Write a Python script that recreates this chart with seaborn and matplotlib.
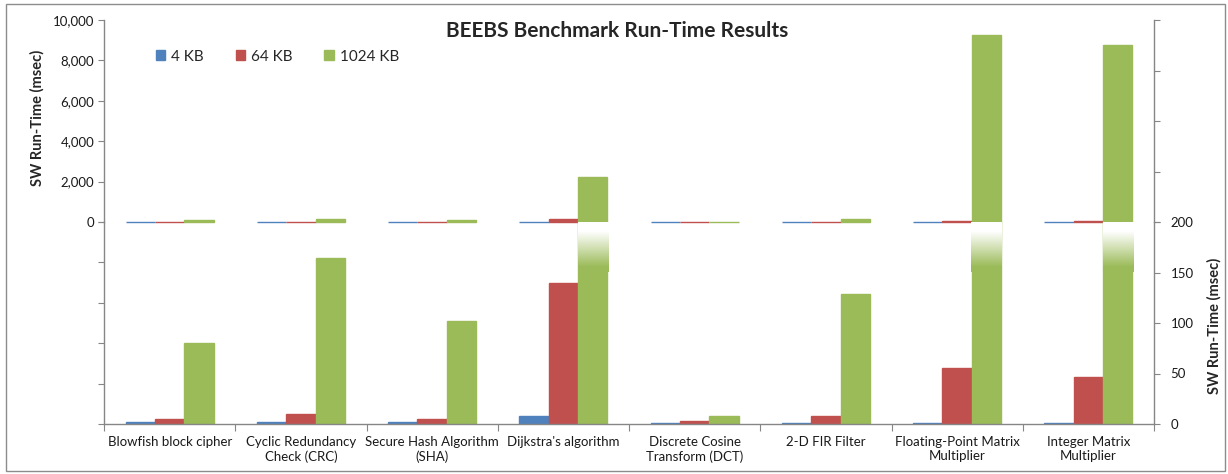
import numpy as np
import pandas as pd
import seaborn as sns
import matplotlib.pyplot as plt
from matplotlib.patches import Rectangle
from matplotlib.ticker import FuncFormatter

# Laufzeiten in msec
categories = ["Blowfish block cipher", "Cyclic Redundancy\nCheck (CRC)",
              "Secure Hash Algorithm\n(SHA)", "Dijkstra's algorithm",
              "Discrete Cosine\nTransform (DCT)", "2-D FIR Filter",
              "Floating-Point Matrix\nMultiplier", "Integer Matrix\nMultiplier"]
sizes = ["4 KB", "64 KB", "1024 KB"]
t_4kb = [1.5, 1.5, 1.5, 8, 1, 1, 1, 1]
t_64kb = [4.5, 9.5, 5, 140, 3, 7.5, 55, 47]
t_1024kb = [80, 164, 102, 2250, 7.5, 129, 9250, 8760]
colors = ["#4F81BD", "#C0504D", "#9BBB59"]

df = pd.DataFrame({
    "bench": categories * 3,
    "size": [s for s in sizes for _ in categories],
    "msec": t_4kb + t_64kb + t_1024kb,
})

sns.set_style("white")
plt.rcParams["font.family"] = ["Lato", "DejaVu Sans"]
axis_grey = "#868686"

W, H = 1228, 474
fig = plt.figure(figsize=(W / 100, H / 100), dpi=100)
left, right = 104 / W, 1154 / W
ax_top = fig.add_axes([left, 1 - 222 / H, right - left, 202 / H])
ax_bot = fig.add_axes([left, 1 - 424 / H, right - left, 202 / H])
ax_bot.patch.set_visible(False)

for ax, leg in [(ax_top, True), (ax_bot, False)]:
    sns.barplot(data=df, x="bench", y="msec", hue="size", hue_order=sizes,
                palette=colors, width=0.67, saturation=1, ax=ax, legend=leg)
    # Kantenfarbe = Fuellfarbe, damit auch winzige Balken als Linie sichtbar bleiben
    for p in ax.patches:
        p.set_edgecolor(p.get_facecolor())
        p.set_linewidth(1.0)
        if ax is ax_top:
            p.set_clip_on(False)
    ax.set_xlim(-0.5, len(categories) - 0.5)
    ax.set_xlabel("")
    ax.set_ylabel("")
    ax.spines["top"].set_visible(False)
    for s in ["left", "right", "bottom"]:
        ax.spines[s].set_color(axis_grey)
        ax.spines[s].set_linewidth(1)

# oberer Teil: 0 - 10.000 msec
ax_top.set_ylim(0, 10000)
ax_top.spines["bottom"].set_visible(False)
ax_top.set_xticks([])
ax_top.set_yticks(np.arange(0, 10001, 2000))
ax_top.yaxis.set_major_formatter(FuncFormatter(lambda v, p: f"{int(v):,}"))
ax_top.tick_params(axis="y", left=True, length=4, color=axis_grey, labelsize=9.5,
                   labelcolor="#1a1a1a", pad=3)
rt = ax_top.twinx()
rt.set_ylim(0, 10000)
rt.set_yticks(np.arange(0, 10001, 2500))
rt.set_yticklabels([])
rt.tick_params(axis="y", right=True, length=4, color=axis_grey)
for s in rt.spines.values():
    s.set_visible(False)

# unterer Teil: 0 - 200 msec (rechte Achse)
ax_bot.set_ylim(0, 200)
ax_bot.set_yticks(np.arange(0, 201, 40))
ax_bot.set_yticklabels([])
ax_bot.tick_params(axis="y", left=True, length=4, color=axis_grey)
ax_bot.set_xticks(np.arange(-0.5, len(categories), 1))
ax_bot.set_xticklabels([])
ax_bot.set_xticks(np.arange(len(categories)), minor=True)
ax_bot.set_xticklabels(categories, minor=True, fontsize=9.5, color="#1a1a1a")
ax_bot.tick_params(axis="x", which="major", bottom=True, length=5, color=axis_grey)
ax_bot.tick_params(axis="x", which="minor", bottom=True, length=0, pad=9)
rb = ax_bot.twinx()
rb.set_ylim(0, 200)
rb.set_yticks(np.arange(0, 201, 50))
rb.tick_params(axis="y", right=True, length=4, color=axis_grey, labelsize=9.5,
               labelcolor="#1a1a1a", pad=8)
for s in rb.spines.values():
    s.set_visible(False)

# abgeschnittene Balken unten ausblenden (Verlauf nach weiss)
green = np.array([0x9B, 0xBB, 0x59]) / 255
vals = np.linspace(150, 201, 120)
t = np.clip((vals - 155) / (190 - 155), 0, 1)[:, None]
grad = green * (1 - t) + np.ones(3) * t
for bar in list(ax_bot.patches):
    if bar.get_height() > 200:
        x0 = bar.get_x()
        ax_bot.imshow(grad[:, None, :], extent=(x0 - 0.004, x0 + bar.get_width() + 0.004, 150, 201),
                      origin="lower", aspect="auto", zorder=5)
ax_bot.set_xlim(-0.5, len(categories) - 0.5)
ax_bot.set_ylim(0, 200)

# Legende
handles, labels = ax_top.get_legend_handles_labels()
ax_top.legend(handles, labels, ncol=3, frameon=False, fontsize=11,
              loc="upper left", bbox_to_anchor=(148 / W, 1 - 42 / H),
              bbox_transform=fig.transFigure, borderpad=0, handlelength=0.6,
              handleheight=0.6, handletextpad=0.4, columnspacing=2.1)

fig.text(617 / W, 1 - 31 / H, "BEEBS Benchmark Run-Time Results", ha="center",
         va="center", fontsize=15, fontweight="bold")
fig.text(37 / W, 1 - 118 / H, "SW Run-Time (msec)", rotation=90, ha="center",
         va="center", fontsize=10.5, fontweight="bold")
fig.text(1214 / W, 1 - 326 / H, "SW Run-Time (msec)", rotation=90, ha="center",
         va="center", fontsize=10.5, fontweight="bold")

fig.patches.append(Rectangle((6 / W, 1 - 471 / H), 1219 / W, 467 / H, fill=False,
                             edgecolor="#8c8c8c", linewidth=1,
                             transform=fig.transFigure, figure=fig))

fig.savefig("out.png", dpi=100)
plt.close(fig)
